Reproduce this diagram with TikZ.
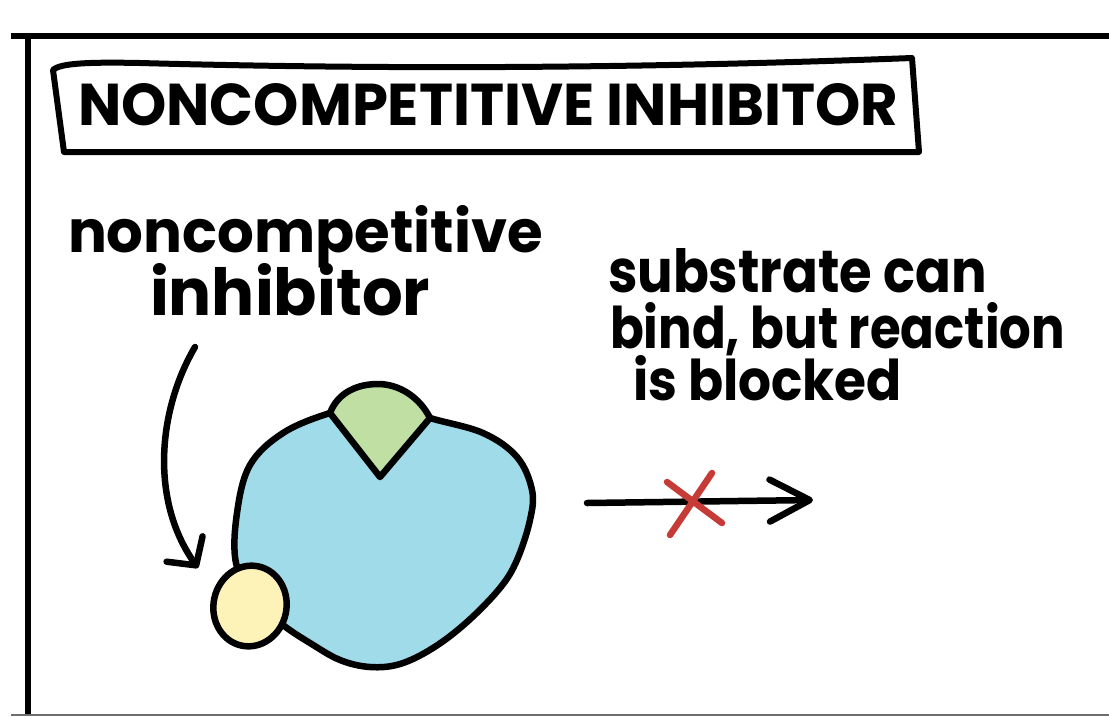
\documentclass[tikz,border=0pt]{standalone}
\usepackage{fontspec}
\setmainfont{Poppins}
\usetikzlibrary{arrows.meta,shapes.geometric}
\definecolor{enzblue}{HTML}{A0DBEA}
\definecolor{sitegreen}{HTML}{BFDFA3}
\definecolor{inhyellow}{HTML}{FDF2B7}
\definecolor{crossred}{HTML}{C63B36}
\definecolor{rulegray}{HTML}{6E6E6E}
\begin{document}
\begin{tikzpicture}[x=1pt,y=-1pt,
  ink/.style={line width=6.5pt, line cap=round, line join=round},
  handtext/.style={anchor=base west, inner sep=0pt, outer sep=0pt, font=\bfseries},
  barb/.style={-{Straight Barb[length=#1pt,width=42pt,round]}}]
\useasboundingbox (0,0) rectangle (1109,716);
\fill[white] (0,0) rectangle (1109,716);

% panel frame
\draw[line width=6.5pt] (11,36) -- (1109,36);
\draw[line width=6pt] (28,36) -- (28,716);
\draw[line width=1.5pt, rulegray] (11,715) -- (1109,715);

% title box with a hand-drawn top edge
\draw[ink, line width=6pt] (53,70) .. controls (60,63) and (90,62) .. (140,63)
  .. controls (400,70) and (650,68) .. (912,58) -- (919,152) -- (64,152) -- cycle;
\node[handtext] (title) at (78,125) {\resizebox{820pt}{42pt}{NONCOMPETITIVE INHIBITOR}};

% label for the inhibitor
\node[handtext] (lblA) at (68,252) {\resizebox{475pt}{47pt}{noncompetitive}};
\node[handtext] (lblB) at (150,315) {\resizebox{280pt}{52pt}{inhibitor}};

% note on the blocked reaction
\node[handtext] (noteA) at (608,292) {\resizebox{379pt}{44pt}{substrate can}};
\node[handtext] (noteB) at (610,348) {\resizebox{455pt}{46pt}{bind, but reaction}};
\node[handtext] (noteC) at (633,400) {\resizebox{269pt}{45pt}{is blocked}};

% enzyme body
\draw[ink, fill=enzblue] plot[smooth cycle, tension=0.6] coordinates {
  (380,402) (430,418) (483,433) (517,457) (532,490) (530,520) (517,560)
  (500,588) (467,622) (433,648) (400,664) (370,667) (340,660) (310,643)
  (283,625) (255,600) (236,563) (237,513) (250,465) (283,433) (330,413)};

% active site with substrate wedge
\draw[ink, fill=sitegreen] (330,413) .. controls (338,392) and (358,384) .. (378,384)
  .. controls (400,384) and (420,398) .. (430,418) -- (380,477) -- cycle;

% inhibitor bound off the active site
\node[ellipse, draw, ink, fill=inhyellow, minimum width=73pt, minimum height=81pt,
  inner sep=0pt, rotate=-12] (inh) at (250,606) {};

% curved pointer from the label to the inhibitor
\coordinate (arrS) at (195,347);
\coordinate (arrE) at (198,568);
\draw[ink, -{Straight Barb[length=20pt,width=44pt,round]}] (arrS) .. controls (158,410) and (150,500) .. (arrE);

% reaction arrow, crossed out
\coordinate (rxS) at (587,503);
\coordinate (rxE) at (813,500);
\draw[ink, barb=40] (rxS) -- (rxE);
\draw[ink, crossred, line width=6.5pt] (667,482) -- (722,523) (712,473) -- (670,535);
\end{tikzpicture}
\end{document}
